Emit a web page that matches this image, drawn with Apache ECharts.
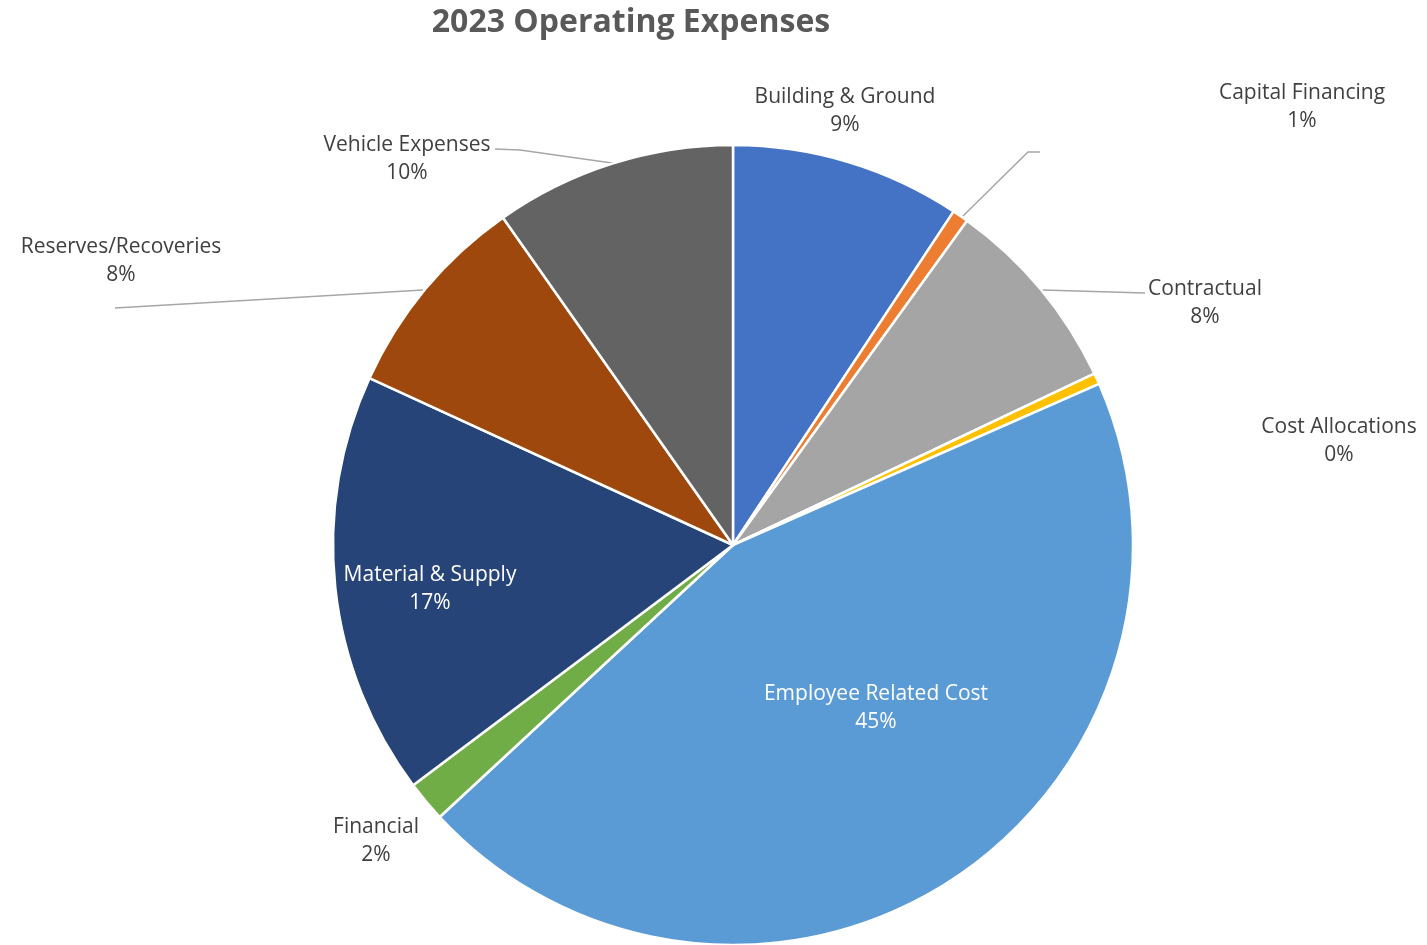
<!DOCTYPE html>
<html>
<head>
<meta charset="utf-8">
<script src="https://cdn.jsdelivr.net/npm/echarts@6/dist/echarts.min.js"></script>
<style>
html,body{margin:0;padding:0;background:#fff;}
#chart{width:1427px;height:945px;}
</style>
</head>
<body>
<div id="chart"></div>
<script>
const titleText = '2023 Operating Expenses';
const categories = ['Building & Ground','Capital Financing','Contractual','Cost Allocations','Employee Related Cost','Financial','Material & Supply','Reserves/Recoveries','Vehicle Expenses'];
const values = [9.3, 0.65, 8.0, 0.45, 44.7, 1.65, 17.1, 8.4, 9.75];
const colors = ['#4472C4','#ED7D31','#A5A5A5','#FFC000','#5B9BD5','#70AD47','#264478','#9E480E','#636363'];

// label placement (layout only)
const labelPos = [
  {x:845, y:111},
  {x:1302, y:107, line:[[963,216],[1028,152],[1040,152]]},
  {x:1205, y:303, line:[[1042,290],[1094,291.5],[1145,293]]},
  {x:1339, y:441},
  {x:876, y:708},
  {x:376, y:841},
  {x:430, y:589},
  {x:121, y:261, line:[[423,290],[270,299],[115,308]]},
  {x:407, y:159, line:[[612,163],[520,150],[495,149]]}
];
const insideIdx = [4, 6];

const chart = echarts.init(document.getElementById('chart'), null, {renderer:'canvas'});
const data = categories.map((c, i) => ({
  name: c,
  value: values[i],
  itemStyle: {color: colors[i]},
  label: insideIdx.includes(i) ? {color:'#ffffff'} : {color:'#404040'},
  labelLine: {show: !!labelPos[i].line}
}));

chart.setOption({
  animation: false,
  title: {
    text: titleText,
    left: 626, top: 2,
    textAlign: 'center',
    textStyle: {fontFamily:'Open Sans', fontWeight:'bold', fontSize:32, color:'#595959'}
  },
  series: [{
    type: 'pie',
    center: [733, 545],
    radius: [0, 400],
    startAngle: 90,
    clockwise: true,
    avoidLabelOverlap: false,
    itemStyle: {borderColor:'#ffffff', borderWidth:2.5},
    label: {
      show: true,
      position: 'outside',
      fontFamily: 'Open Sans',
      fontSize: 21,
      lineHeight: 28,
      align: 'center',
      formatter: p => p.name + '\n' + Math.round(p.percent) + '%'
    },
    labelLine: {lineStyle:{color:'#A6A6A6', width:1.5}, length:20, length2:20},
    labelLayout: function (params) {
      const lp = labelPos[params.dataIndex];
      const r = {x: lp.x, y: lp.y, align:'center', verticalAlign:'middle'};
      if (lp.line) r.labelLinePoints = lp.line;
      return r;
    },
    data: data
  }]
});
</script>
</body>
</html>
